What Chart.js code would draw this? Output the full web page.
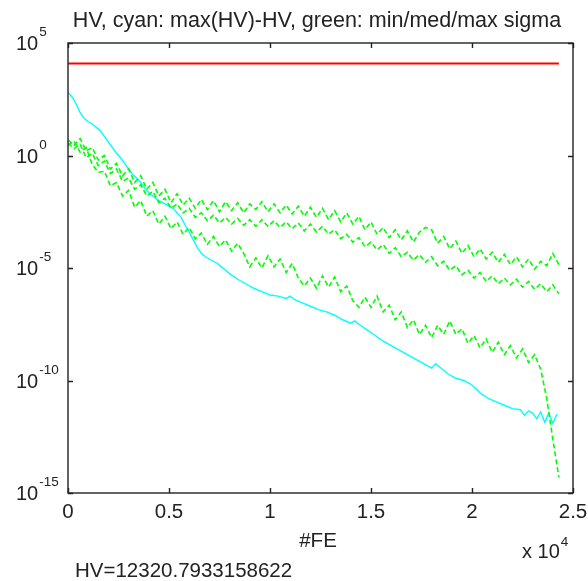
<!DOCTYPE html>
<html>
<head>
<meta charset="utf-8">
<script src="https://cdn.jsdelivr.net/npm/chart.js@4.4.1/dist/chart.umd.min.js"></script>
<style>
  html, body { margin: 0; padding: 0; background: #fff; }
  #hv-chart { display: block; }
</style>
</head>
<body>
<canvas id="hv-chart" width="588" height="581"></canvas>
<script>
// data (y values as log10)
const hvValue = 12320.7933158622
const hvFe = [0, 24300]

const sigmaFe = [0,300,600,900,1200,1500,1800,2100,2400,2700,3000,3300,3600,3900,4200,4500,4800,5100,5400,5700,
  6000,6300,6600,6900,7200,7500,7800,8100,8400,8700,9000,9300,9600,9900,10200,10500,10800,11100,11400,11700,
  12000,12300,12600,12900,13200,13500,13800,14100,14400,14700,15000,15300,15600,15900,16200,16500,16800,17100,17400,17700,
  18000,18300,18600,18900,19200,19500,19800,20100,20400,20700,21000,21300,21600,21900,22200,22500,22800,23100,23400,23700,
  24000,24300]

const sigmaMaxLog = [0.7,0.45,0.75,0.2,0.35,-0.2,0.0,-0.6,-0.35,-0.9,-0.6,-1.2,-0.9,-1.5,-1.2,-1.8,-1.5,-2.1,-1.7,-2.2,
  -1.9,-2.35,-1.95,-2.4,-2.0,-2.5,-2.05,-2.45,-2.1,-2.55,-2.15,-2.4,-2.05,-2.5,-2.15,-2.55,-2.2,-2.6,-2.25,-2.7,
  -2.3,-2.75,-2.35,-2.85,-2.45,-2.95,-2.55,-3.05,-2.7,-3.3,-2.95,-3.5,-3.2,-3.65,-3.3,-3.75,-3.35,-3.85,-3.4,-3.2,
  -3.3,-3.9,-3.6,-4.15,-3.8,-4.35,-4.0,-4.5,-4.15,-4.6,-4.3,-4.75,-4.4,-4.85,-4.5,-4.95,-4.6,-5.05,-4.7,-4.9,
  -4.35,-4.85]

const sigmaMedLog = [0.55,0.3,0.5,-0.1,0.1,-0.45,-0.25,-0.8,-0.6,-1.15,-1.0,-1.5,-1.3,-1.8,-1.6,-2.1,-1.9,-2.35,-2.15,-2.55,
  -2.35,-2.75,-2.55,-2.9,-2.65,-3.0,-2.75,-3.05,-2.8,-3.1,-2.85,-3.15,-2.85,-3.15,-2.9,-3.2,-2.95,-3.25,-3.0,-3.35,
  -3.05,-3.4,-3.15,-3.5,-3.3,-3.7,-3.5,-3.85,-3.65,-4.05,-3.85,-4.2,-3.95,-4.35,-4.1,-4.5,-4.3,-4.65,-4.4,-4.75,
  -4.5,-4.9,-4.7,-5.1,-4.9,-5.3,-5.1,-5.45,-5.2,-5.6,-5.35,-5.7,-5.45,-5.75,-5.5,-5.85,-5.6,-5.95,-5.7,-6.05,
  -5.75,-6.15]

const sigmaMinLog = [0.45,0.65,0.15,0.35,-0.4,-0.75,-0.7,-1.35,-1.2,-1.8,-1.55,-2.3,-2.0,-2.7,-2.45,-3.05,-2.7,-3.25,-2.95,-3.5,
  -3.2,-3.7,-3.45,-3.95,-3.6,-4.05,-3.75,-4.25,-3.9,-4.35,-4.95,-4.55,-5.0,-4.45,-4.95,-4.6,-5.2,-4.8,-5.45,-5.8,
  -5.45,-5.9,-5.35,-5.85,-5.4,-6.05,-5.8,-6.45,-6.75,-6.3,-6.75,-6.25,-6.95,-6.65,-7.3,-6.95,-7.65,-7.3,-7.95,-7.55,
  -8.1,-7.55,-7.95,-7.35,-7.95,-7.7,-8.35,-8.0,-8.55,-8.15,-8.75,-8.3,-8.85,-8.45,-9.0,-8.6,-9.2,-8.85,-9.5,-10.8,
  -12.6,-14.3]

const cyanFe = [0,200,400,600,800,1000,1200,1400,1600,1800,2000,2200,2400,2600,2800,3000,3200,3400,3600,3800,
  4000,4200,4400,4600,4800,5000,5200,5400,5600,5800,6000,6200,6400,6600,6800,7000,7200,7400,7600,7800,
  8000,8400,8800,9200,9600,10000,10400,10800,11000,11200,11600,12000,12400,12800,13200,13600,14000,14200,14400,14800,
  15200,15600,16000,16400,16800,17200,17600,18000,18200,18400,18800,19200,19600,20000,20400,20800,21200,21600,22000,22400,
  22600,22800,23000,23200,23400,23600,23800,24000,24200]

const cyanLog = [2.8,2.6,2.3,1.9,1.65,1.5,1.4,1.25,1.1,0.85,0.6,0.35,0.1,-0.1,-0.35,-0.6,-0.85,-1.0,-1.2,-1.45,
  -1.65,-1.8,-1.95,-2.05,-2.15,-2.25,-2.35,-2.55,-2.75,-3.1,-3.4,-3.75,-4.1,-4.35,-4.5,-4.6,-4.7,-4.8,-4.95,-5.1,
  -5.25,-5.5,-5.7,-5.9,-6.05,-6.2,-6.25,-6.35,-6.25,-6.4,-6.55,-6.7,-6.85,-6.95,-7.1,-7.3,-7.45,-7.35,-7.5,-7.75,
  -8.0,-8.25,-8.45,-8.65,-8.85,-9.05,-9.25,-9.45,-9.25,-9.4,-9.7,-9.9,-10.0,-10.2,-10.55,-10.8,-10.95,-11.1,-11.25,-11.3,
  -11.55,-11.35,-11.45,-11.7,-11.4,-11.85,-11.45,-11.9,-11.5]

const xTickValues = [0, 5000, 10000, 15000, 20000, 25000]
const xTickLabels = ['0', '0.5', '1', '1.5', '2', '2.5']
const yTickExps = [5, 0, -5, -10, -15]

const titleText = 'HV, cyan: max(HV)-HV, green: min/med/max sigma'
const xLabelText = '#FE'
const hvText = 'HV=' + hvValue

function toPoints(xs, logs){
  return xs.map(function(x, i){
    return { x: x, y: Math.pow(10, logs[i]) }
  })
}

const FONT = '"Liberation Sans", Arial, sans-serif'
const INK = '#222'

// box, inward ticks and all labels, matlab style
const matlabAxes = {
  id: 'matlabAxes',
  afterDraw: function(chart){
    const ctx = chart.ctx
    const a = chart.chartArea
    const xs = chart.scales.x
    const ys = chart.scales.y
    ctx.save()
    ctx.strokeStyle = INK
    ctx.lineWidth = 1.4
    ctx.strokeRect(a.left, a.top, a.right - a.left, a.bottom - a.top)

    ctx.beginPath()
    xTickValues.forEach(function(v){
      const px = Math.round(xs.getPixelForValue(v)) + 0.5
      ctx.moveTo(px, a.bottom); ctx.lineTo(px, a.bottom - 5)
      ctx.moveTo(px, a.top); ctx.lineTo(px, a.top + 5)
    })
    yTickExps.forEach(function(e){
      const py = Math.round(ys.getPixelForValue(Math.pow(10, e))) + 0.5
      ctx.moveTo(a.left, py); ctx.lineTo(a.left + 5, py)
      ctx.moveTo(a.right, py); ctx.lineTo(a.right - 5, py)
    })
    ctx.stroke()

    ctx.fillStyle = INK
    ctx.textBaseline = 'alphabetic'

    // title
    ctx.font = '21.5px ' + FONT
    ctx.textAlign = 'center'
    ctx.fillText(titleText, 317, 27)

    // x tick labels
    ctx.font = '20.5px ' + FONT
    xTickValues.forEach(function(v, i){
      ctx.fillText(xTickLabels[i], xs.getPixelForValue(v), a.bottom + 25)
    })
    ctx.fillText(xLabelText, 318, a.bottom + 54)

    // y tick labels 10^n
    yTickExps.forEach(function(e){
      const py = ys.getPixelForValue(Math.pow(10, e))
      ctx.textAlign = 'left'
      ctx.font = '20px ' + FONT
      ctx.fillText('10', 16, py + 7)
      const w = ctx.measureText('10').width
      ctx.font = '13.5px ' + FONT
      ctx.fillText(e < 0 ? '-' + (-e) : String(e), 16 + w + 1, py - 7)
    })

    // x 10^4 multiplier
    ctx.textAlign = 'left'
    ctx.font = '20px ' + FONT
    ctx.fillText('x 10', 522, a.bottom + 65)
    const mw = ctx.measureText('x 10').width
    ctx.font = '13.5px ' + FONT
    ctx.fillText('4', 522 + mw + 1, a.bottom + 53)

    // hv readout
    ctx.font = '20.5px ' + FONT
    ctx.fillText(hvText, 75, a.bottom + 84)
    ctx.restore()
  }
}

const hvChart = document.getElementById('hv-chart')

function greenSeries(label, logs){
  return {
    label: label,
    data: toPoints(sigmaFe, logs),
    borderColor: '#00ff00',
    borderWidth: 1.6,
    borderDash: [5, 3],
    pointRadius: 0,
    tension: 0,
    order: 0
  }
}

new Chart(hvChart, {
  type: 'line',
  data: {
    datasets: [
      greenSeries('max sigma', sigmaMaxLog),
      greenSeries('med sigma', sigmaMedLog),
      greenSeries('min sigma', sigmaMinLog),
      {
        label: 'max(HV)-HV',
        data: toPoints(cyanFe, cyanLog),
        borderColor: '#00ffff',
        borderWidth: 1.4,
        pointRadius: 0,
        tension: 0,
        order: 1
      },
      {
        label: 'HV',
        data: hvFe.map(function(x){ return { x: x, y: hvValue } }),
        borderColor: '#ff0000',
        borderWidth: 2,
        pointRadius: 0,
        order: 2
      }
    ]
  },
  options: {
    responsive: false,
    animation: false,
    devicePixelRatio: 1,
    layout: { padding: { top: 43, right: 15, left: 0, bottom: 0 } },
    plugins: {
      legend: { display: false },
      title: { display: false },
      tooltip: { enabled: false }
    },
    scales: {
      x: {
        type: 'linear',
        min: 0,
        max: 25000,
        grid: { display: false },
        border: { display: false },
        ticks: { display: false },
        afterFit: function(scale){ scale.height = 88 }
      },
      y: {
        type: 'logarithmic',
        min: 1e-15,
        max: 1e5,
        grid: { display: false },
        border: { display: false },
        ticks: { display: false },
        afterFit: function(scale){ scale.width = 68 }
      }
    }
  },
  plugins: [matlabAxes]
});
</script>
</body>
</html>
